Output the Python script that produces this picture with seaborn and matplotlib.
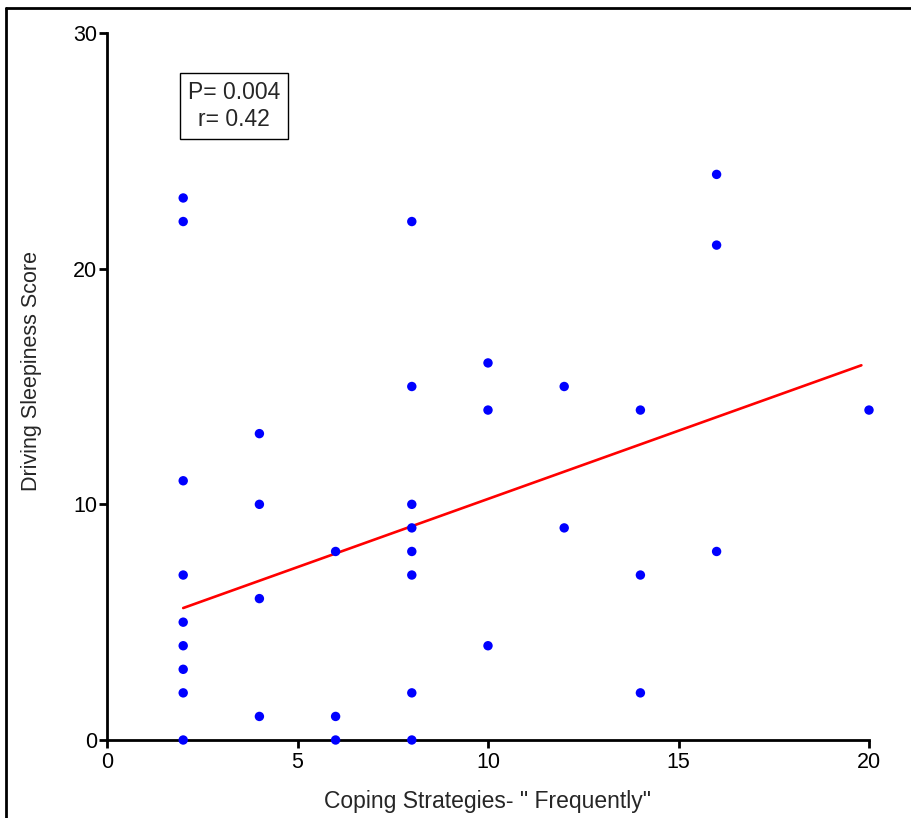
import matplotlib
matplotlib.use("Agg")
import matplotlib.pyplot as plt
import seaborn as sns
import pandas as pd
from matplotlib.lines import Line2D

# Data
coping = [2, 2, 2, 2, 2, 2, 2, 2, 2,
          4, 4, 4, 4,
          6, 6, 6,
          8, 8, 8, 8, 8, 8, 8, 8,
          10, 10, 10,
          12, 12,
          14, 14, 14,
          16, 16, 16,
          20]
sleepiness = [23, 22, 11, 7, 5, 4, 3, 2, 0,
              13, 10, 6, 1,
              8, 1, 0,
              22, 15, 10, 9, 8, 7, 2, 0,
              16, 14, 4,
              15, 9,
              14, 7, 2,
              24, 21, 8,
              14]
fit_x = [2, 19.8]
fit_y = [5.6, 15.9]
x_ticks = [0, 5, 10, 15, 20]
y_ticks = [0, 10, 20, 30]
stats_text = "P= 0.004\nr= 0.42"

sns.set_style("ticks")
plt.rcParams['font.family'] = ['Liberation Sans', 'DejaVu Sans']

fig = plt.figure(figsize=(9.11, 8.18), dpi=100)
ax = fig.add_axes([107/911, (818-740)/818, (869-107)/911, (740-33)/818])

df = pd.DataFrame({"x": coping, "y": sleepiness})
sns.scatterplot(data=df, x="x", y="y", ax=ax, color="#0000ff", s=46,
                edgecolor="none", clip_on=False, zorder=3)
sns.lineplot(x=fit_x, y=fit_y, ax=ax, color="#ff0000", linewidth=1.9, zorder=2)

ax.set_xlim(0, 20)
ax.set_ylim(0, 30)
ax.set_xticks(x_ticks)
ax.set_yticks(y_ticks)
ax.tick_params(axis="both", direction="out", length=6, width=2, labelsize=15.5,
               color="black", labelcolor="black")
ax.tick_params(axis="y", pad=1)
ax.tick_params(axis="x", pad=3)
for side in ["top", "right"]:
    ax.spines[side].set_visible(False)
for side in ["left", "bottom"]:
    ax.spines[side].set_linewidth(2)
    ax.spines[side].set_color("black")

ax.set_xlabel('Coping Strategies- " Frequently"', fontsize=16.5, labelpad=12)
ax.set_ylabel("Driving Sleepiness Score", fontsize=15.5)
ax.yaxis.set_label_coords(-65/762, (740-371)/707)

ax.text(3.33, 26.9, stats_text, ha="center", va="center", fontsize=16.5,
        linespacing=1.2,
        bbox=dict(boxstyle="square,pad=0.35", facecolor="white",
                  edgecolor="black", linewidth=1))

# figure frame (left and top)
fig.add_artist(Line2D([6/911, 6/911], [0, 1 - 8/818], color="black", lw=2,
                      transform=fig.transFigure))
fig.add_artist(Line2D([6/911, 1], [1 - 8/818, 1 - 8/818], color="black", lw=2,
                      transform=fig.transFigure))

fig.savefig("out.png", dpi=100)
